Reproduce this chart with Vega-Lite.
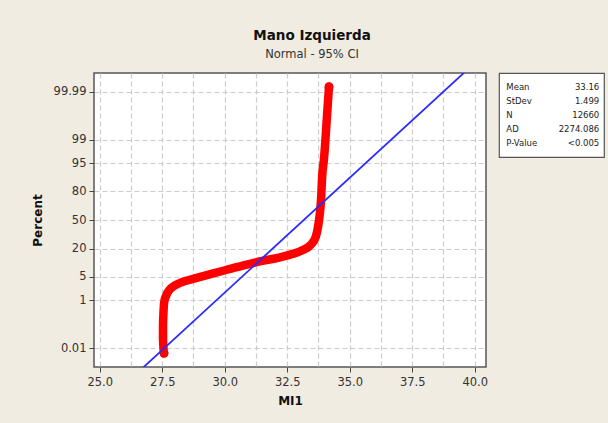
{
  "$schema": "https://vega.github.io/schema/vega-lite/v6.json",
  "background": "#F0ECE2",
  "autosize": {"type": "pad"},
  "padding": {"left": 30, "top": 28, "right": 3, "bottom": 16},
  "spacing": 13,
  "bounds": "flush",
  "config": {
    "view": {"fill": "white", "stroke": "#555555", "strokeWidth": 1.5},
    "font": "DejaVu Sans"
  },
  "hconcat": [
    {
      "width": 392,
      "height": 294,
      "title": {
        "text": "Mano Izquierda",
        "subtitle": "Normal - 95% CI",
        "anchor": "middle",
        "dx": 22,
        "fontSize": 13.5,
        "fontWeight": "bold",
        "color": "#111111",
        "subtitleFontSize": 11.5,
        "subtitleColor": "#333333",
        "subtitlePadding": 6,
        "offset": 13
      },
      "layer": [
        {
          "data": {
            "values": [
              {"MI1": 27.57, "percent": 0.00544},
              {"MI1": 27.53, "percent": 0.028},
              {"MI1": 27.53, "percent": 0.111},
              {"MI1": 27.55, "percent": 0.379},
              {"MI1": 27.58, "percent": 0.866},
              {"MI1": 27.66, "percent": 1.426},
              {"MI1": 27.8, "percent": 2.169},
              {"MI1": 28.01, "percent": 2.872},
              {"MI1": 28.3, "percent": 3.593},
              {"MI1": 28.84, "percent": 4.551},
              {"MI1": 29.5, "percent": 5.938},
              {"MI1": 30.17, "percent": 7.636},
              {"MI1": 30.84, "percent": 9.68},
              {"MI1": 31.5, "percent": 11.7},
              {"MI1": 32.17, "percent": 13.79},
              {"MI1": 32.7, "percent": 16.11},
              {"MI1": 33.1, "percent": 18.94},
              {"MI1": 33.44, "percent": 23.58},
              {"MI1": 33.64, "percent": 31.21},
              {"MI1": 33.74, "percent": 43.64},
              {"MI1": 33.81, "percent": 59.1},
              {"MI1": 33.85, "percent": 71.57},
              {"MI1": 33.9, "percent": 90.32},
              {"MI1": 33.97, "percent": 96.25},
              {"MI1": 34.04, "percent": 99.305},
              {"MI1": 34.1, "percent": 99.9155},
              {"MI1": 34.17, "percent": 99.99456}
            ]
          },
          "transform": [{"calculate": "quantileNormal(datum.percent / 100)", "as": "z"}],
          "layer": [
            {
              "mark": {"type": "line", "color": "#FF0000", "strokeWidth": 8.5, "strokeCap": "round", "strokeJoin": "round", "interpolate": "monotone"},
              "encoding": {
                "x": {
                  "field": "MI1",
                  "type": "quantitative",
                  "scale": {"domain": [24.77, 40.45], "nice": false, "zero": false},
                  "axis": {
                    "title": "MI1",
                    "values": [25, 26.25, 27.5, 28.75, 30, 31.25, 32.5, 33.75, 35, 36.25, 37.5, 38.75, 40],
                    "tickCount": 30,
                    "labelExpr": "datum.value % 2.5 == 0 ? format(datum.value, '.1f') : ''",
                    "tickOpacity": {"condition": {"test": "datum.value % 2.5 != 0", "value": 0}, "value": 1},
                    "grid": true,
                    "gridDash": [5, 3],
                    "gridColor": "#cccccc",
                    "gridWidth": 1.2,
                    "domain": false,
                    "tickSize": 5,
                    "tickColor": "#444444",
                    "labelFontSize": 11.5,
                    "labelColor": "#333333",
                    "labelPadding": 4,
                    "labelFlush": false,
                    "labelOverlap": false,
                    "titleFontSize": 12,
                    "titleFontWeight": "bold",
                    "titleColor": "#111111",
                    "titlePadding": 8
                  }
                },
                "y": {
                  "field": "z",
                  "type": "quantitative",
                  "scale": {"domain": [-4.27, 4.27], "nice": false, "zero": false},
                  "axis": {
                    "title": "Percent",
                    "values": [-3.719, -2.3263, -1.6449, -0.8416, 0, 0.8416, 1.6449, 2.3263, 3.719],
                    "tickCount": 30,
                    "labelExpr": "datum.value < -3 ? '0.01' : datum.value > 3 ? '99.99' : format(cumulativeNormal(datum.value) * 100, '.0f')",
                    "grid": true,
                    "gridDash": [5, 3],
                    "gridColor": "#cccccc",
                    "gridWidth": 1.2,
                    "domain": false,
                    "tickSize": 5,
                    "tickColor": "#444444",
                    "labelFontSize": 11.5,
                    "labelColor": "#333333",
                    "labelPadding": 3,
                    "labelOverlap": false,
                    "titleFontSize": 12,
                    "titleFontWeight": "bold",
                    "titleColor": "#111111",
                    "titlePadding": 9
                  }
                },
                "order": {"field": "percent", "type": "quantitative"}
              }
            },
            {
              "transform": [{"filter": "datum.percent < 0.01 || datum.percent > 99.99"}],
              "mark": {"type": "circle", "color": "#FF0000", "opacity": 1, "size": 80},
              "encoding": {
                "x": {"field": "MI1", "type": "quantitative"},
                "y": {"field": "z", "type": "quantitative"}
              }
            }
          ]
        },
        {
          "data": {
            "values": [
              {"MI1": 26.539, "percent": 0.0005},
              {"MI1": 39.781, "percent": 99.9995}
            ]
          },
          "transform": [{"calculate": "quantileNormal(datum.percent / 100)", "as": "z"}],
          "mark": {"type": "line", "color": "#2b2bff", "strokeWidth": 1.8, "clip": true},
          "encoding": {
            "x": {"field": "MI1", "type": "quantitative"},
            "y": {"field": "z", "type": "quantitative"}
          }
        }
      ]
    },
    {
      "width": 105,
      "height": 84,
      "view": {"fill": "white", "stroke": "#555555", "strokeWidth": 1.2},
      "data": {
        "values": [
          {"stat": "Mean", "value": "33.16", "row": 0},
          {"stat": "StDev", "value": "1.499", "row": 1},
          {"stat": "N", "value": "12660", "row": 2},
          {"stat": "AD", "value": "2274.086", "row": 3},
          {"stat": "P-Value", "value": "<0.005", "row": 4}
        ]
      },
      "layer": [
        {
          "mark": {"type": "text", "align": "left", "baseline": "middle", "fontSize": 8.5, "color": "#222222"},
          "encoding": {
            "x": {"datum": 0.07, "type": "quantitative", "scale": {"domain": [0, 1]}, "axis": null},
            "y": {"field": "row", "type": "quantitative", "scale": {"domain": [-0.65, 4.75], "reverse": true}, "axis": null},
            "text": {"field": "stat"}
          }
        },
        {
          "mark": {"type": "text", "align": "right", "baseline": "middle", "fontSize": 8.5, "color": "#222222"},
          "encoding": {
            "x": {"datum": 0.955, "type": "quantitative"},
            "y": {"field": "row", "type": "quantitative"},
            "text": {"field": "value"}
          }
        }
      ]
    }
  ]
}
